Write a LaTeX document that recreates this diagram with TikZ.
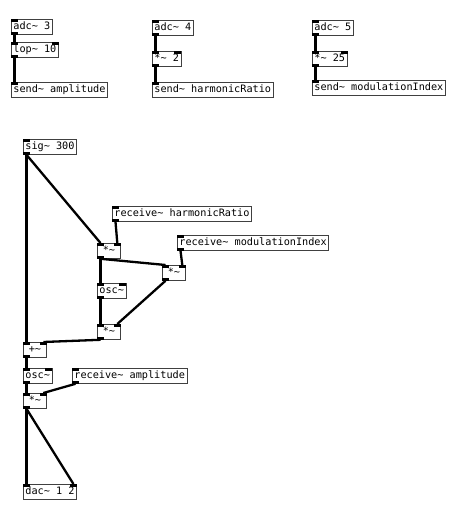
\documentclass[tikz,border=0pt]{standalone}
\usepackage{fontspec}
\newfontfamily\pdfont{DejaVu Sans Mono}
\usetikzlibrary{calc}
\newcommand{\tl}{\textasciitilde}
\tikzset{
  pdbox/.style={draw=black!75, line width=0.8pt, anchor=north west, font=\pdfont\fontsize{10.2}{12}\selectfont,
    inner xsep=2pt, inner ysep=2.5pt, text height=8pt, text depth=2pt, minimum width=23pt},
  wire/.style={line width=2.3pt, black},
  port/.style={fill=black}
}
\newcommand{\inL}[1]{\fill[port] (#1.north west) rectangle ++(7,2.8);}
\newcommand{\inR}[1]{\fill[port] (#1.north east) rectangle ++(-7,2.8);}
\newcommand{\outL}[1]{\fill[port] (#1.south west) rectangle ++(7,-2.8);}
\newcommand{\wire}[2]{\draw[wire] ($(#1.south west)+(3.5,0)$) -- ($(#2.north west)+(3.5,0)$);}
\newcommand{\wireR}[2]{\draw[wire] ($(#1.south west)+(3.5,0)$) -- ($(#2.north east)+(-3.5,0)$);}
\begin{document}
\begin{tikzpicture}[x=1pt,y=-1pt]
\useasboundingbox[fill=white] (0,0) rectangle (474,526);
% top row
\node[pdbox] (a3) at (11,19) {adc\tl{} 3};
\node[pdbox] (lop) at (11,42) {lop\tl{} 10};
\node[pdbox] (sa) at (11,82) {send\tl{} amplitude};
\node[pdbox] (a4) at (152,20) {adc\tl{} 4};
\node[pdbox] (m2) at (152,51) {*\tl{} 2};
\node[pdbox] (sh) at (152,82) {send\tl{} harmonicRatio};
\node[pdbox] (a5) at (312,20) {adc\tl{} 5};
\node[pdbox] (m25) at (312,51) {*\tl{} 25};
\node[pdbox] (sm) at (312,80) {send\tl{} modulationIndex};
% main patch
\node[pdbox] (sig) at (23,139) {sig\tl{} 300};
\node[pdbox] (rh) at (112,206) {receive\tl{} harmonicRatio};
\node[pdbox] (mA) at (97,243) {*\tl{}};
\node[pdbox] (rm) at (177,235) {receive\tl{} modulationIndex};
\node[pdbox] (mB) at (162,265) {*\tl{}};
\node[pdbox] (osc1) at (97,283) {osc\tl{}};
\node[pdbox] (mC) at (97,324) {*\tl{}};
\node[pdbox] (plus) at (23,342) {+\tl{}};
\node[pdbox] (osc2) at (23,368) {osc\tl{}};
\node[pdbox] (ra) at (72,368) {receive\tl{} amplitude};
\node[pdbox] (mD) at (23,393) {*\tl{}};
\node[pdbox] (dac) at (23,484) {dac\tl{} 1 2};
% ports
\foreach \n in {a3,a4,a5} {\inL{\n}\outL{\n}}
\foreach \n in {lop,m2,m25,mA,mB,osc1,mC,plus,osc2,mD} {\inL{\n}\inR{\n}\outL{\n}}
\foreach \n in {sa,sh,sm} {\inL{\n}}
\foreach \n in {rh,rm,ra} {\inL{\n}\outL{\n}}
\inL{sig}\outL{sig}
\inL{dac}\inR{dac}
% wires
\wire{a3}{lop}
\wire{lop}{sa}
\wire{a4}{m2}
\wire{m2}{sh}
\wire{a5}{m25}
\wire{m25}{sm}
\wire{sig}{plus}
\wire{sig}{mA}
\wireR{rh}{mA}
\wire{mA}{osc1}
\wire{mA}{mB}
\wireR{rm}{mB}
\wireR{mB}{mC}
\wire{osc1}{mC}
\wireR{mC}{plus}
\wire{plus}{osc2}
\wire{osc2}{mD}
\wireR{ra}{mD}
\wire{mD}{dac}
\wireR{mD}{dac}
\end{tikzpicture}
\end{document}
